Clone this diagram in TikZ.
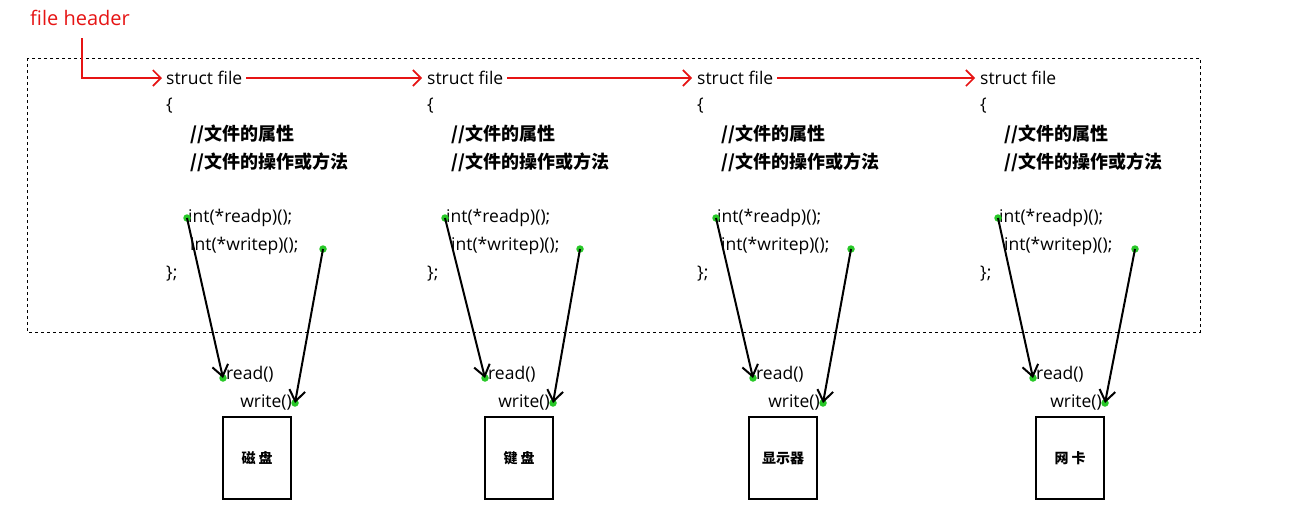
\documentclass[tikz,border=0pt]{standalone}
\usepackage{fontspec}
\setmainfont{Open Sans}
\newfontfamily\cjk{Noto Sans CJK SC}
\usetikzlibrary{arrows.meta}
\definecolor{hred}{RGB}{230,20,20}
\definecolor{dotg}{RGB}{40,200,40}
\tikzset{
 code/.style={anchor=west,inner sep=0pt,font=\fontsize{17.5}{20}\selectfont},
 cmt/.style={anchor=west,inner sep=0pt,font=\cjk\fontsize{18}{20}\selectfont\bfseries},
 dev/.style={draw,line width=2.2pt,minimum width=68pt,minimum height=82pt,anchor=north west,inner sep=0pt},
 devtxt/.style={font=\cjk\fontsize{14}{16}\selectfont\bfseries},
 gdot/.style={circle,fill=dotg,inner sep=0pt,minimum size=7.5pt},
 ptr/.style={line width=2pt,-{Straight Barb[length=11pt,width=16pt,line width=2pt]}},
 link/.style={hred,line width=1.6pt,-{Straight Barb[length=8pt,width=16pt,line width=1.6pt]}}
}
\begin{document}
\begin{tikzpicture}[x=1pt,y=-1pt]
\useasboundingbox (0,0) rectangle (1293,504);
\draw[dashed,line width=0.9pt] (27,58) rectangle (1200,332);
\node[anchor=west,inner sep=0pt,text=hred,font=\fontsize{20}{22}\selectfont] (hdr) at (30,18) {file header};
\coordinate (hc) at (82,38);
\foreach \i/\x/\ra/\wa/\rb/\wb/\bx in {1/166/187/323/223/295/222, 2/427/445/580/485/553/484, 3/697/716/851/753/823/748, 4/980/998/1135/1033/1105/1035}{
  \node[code] (sf\i) at (\x,78) {struct file};
  \node[code] (lb\i) at (\x,106) {\{};
  \node[cmt] (c1\i) at (\x+24,134) {//文件的属性};
  \node[cmt] (c2\i) at (\x+24,162) {//文件的操作或方法};
  \node[code] (rp\i) at (\ra+1,218) {int(*readp)();};
  \node[code] (wp\i) at (\x+24,246) {int(*writep)();};
  \node[code] (rb\i) at (\x,274) {\};};
  \node[code] (rd\i) at (\rb+3,374) {read()};
  \node[code,anchor=east] (wr\i) at (\wb-3,402) {write()};
  \node[dev] (box\i) at (\bx,416) {};
  \node[gdot] (d1\i) at (\ra,218) {};
  \node[gdot] (d2\i) at (\wa,249) {};
  \node[gdot] (d3\i) at (\rb,378) {};
  \node[gdot] (d4\i) at (\wb,403) {};
  \draw[ptr] (d1\i.center) -- (d3\i.center);
  \draw[ptr] (d2\i.center) -- (d4\i.center);
}
\node[devtxt] (t1) at (box1.center) {磁 盘};
\node[devtxt] (t2) at (box2.center) {键 盘};
\node[devtxt] (t3) at (box3.center) {显示器};
\node[devtxt] (t4) at (box4.center) {网 卡};
\draw[link] (hc) |- ([xshift=-4pt]sf1.west);
\draw[link] ([xshift=4pt]sf1.east) -- ([xshift=-5pt]sf2.west);
\draw[link] ([xshift=4pt]sf2.east) -- ([xshift=-5pt]sf3.west);
\draw[link] ([xshift=4pt]sf3.east) -- ([xshift=-5pt]sf4.west);
\end{tikzpicture}
\end{document}
